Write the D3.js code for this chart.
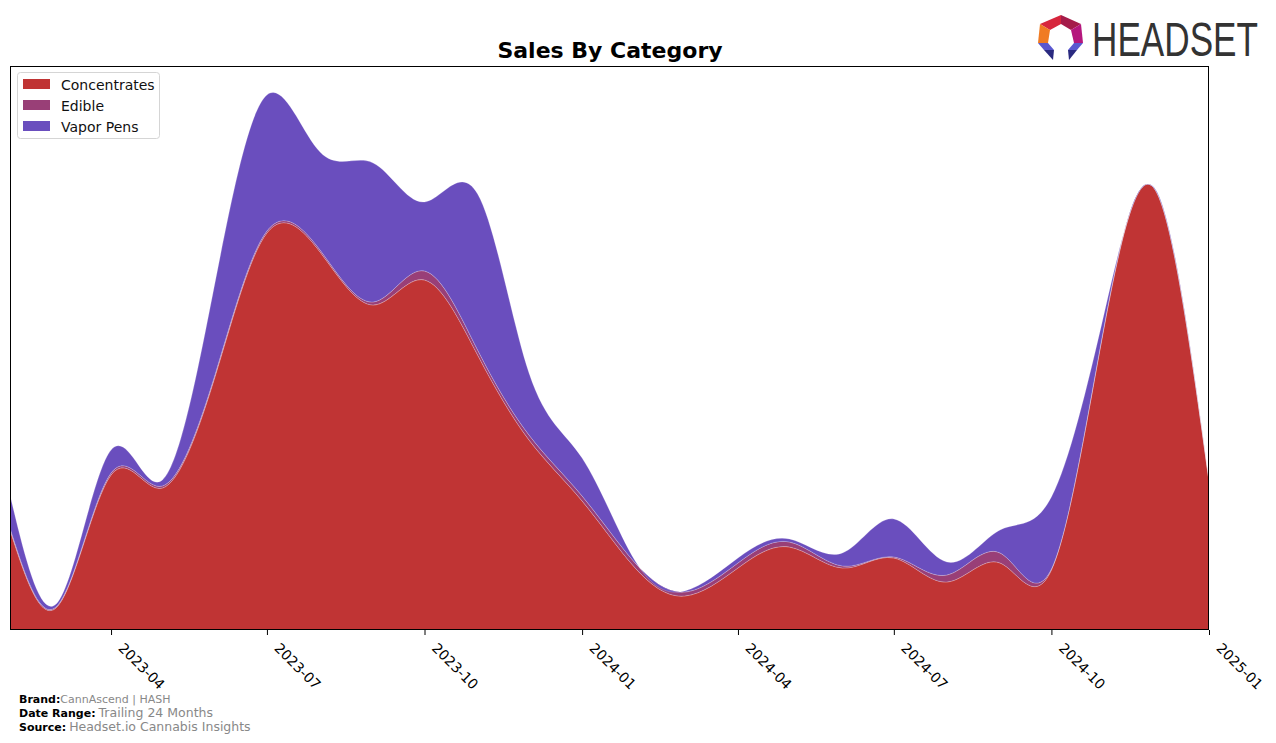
<!DOCTYPE html>
<html>
<head>
<meta charset="utf-8">
<script src="https://cdn.jsdelivr.net/npm/d3@7"></script>
<style>
  body { margin: 0; background: #fff; }
  svg { display: block; font-family: 'DejaVu Sans', sans-serif; }
</style>
</head>
<body>
<div id="chart"></div>
<script>
'use strict';

// monthly sales, trailing 24 months (arbitrary units)
const months = [
  '2023-02', '2023-03', '2023-04', '2023-05', '2023-06', '2023-07',
  '2023-08', '2023-09', '2023-10', '2023-11', '2023-12', '2024-01',
  '2024-02', '2024-03', '2024-04', '2024-05', '2024-06', '2024-07',
  '2024-08', '2024-09', '2024-10', '2024-11', '2024-12', '2025-01',
];
const concentrates = [
  10.0, 2.4, 15.5, 14.2, 25.5, 39.7, 37.8, 32.5, 35.0, 27.5, 19.0, 12.9,
  6.2, 3.4, 6.2, 8.3, 6.2, 7.2, 4.8, 6.7, 6.0, 30.5, 43.9, 14.9,
];
const edible = [
  0.2, 0.1, 0.2, 0.2, 0.2, 0.2, 0.2, 0.3, 0.9, 0.5, 0.5, 0.5,
  0.5, 0.4, 0.5, 0.5, 0.2, 0.1, 0.7, 1.0, 0.1, 0.1, 0.0, 0.05,
];
const vaporPens = [
  3.3, 0.3, 2.3, 0.6, 9.3, 13.6, 9.8, 13.9, 6.9, 15.6, 6.2, 3.8,
  0.2, 0.1, 0.5, 0.3, 1.3, 3.8, 1.3, 2.3, 7.2, 1.2, 0.1, 0.05,
];
const categories = ['Concentrates', 'Edible', 'Vapor Pens'];
const colors = ['#c03434', '#993f77', '#6a4ebe'];
const tickLabels = ['2023-04', '2023-07', '2023-10', '2024-01', '2024-04', '2024-07', '2024-10', '2025-01'];

const width = 1276;
const height = 743;
const margin = { top: 66, right: 67, bottom: 113, left: 10 };
const yMax = 56.4;

const parse = d3.timeParse('%Y-%m');
const rows = months.map((m, i) => ({
  date: parse(m),
  Concentrates: concentrates[i],
  Edible: edible[i],
  'Vapor Pens': vaporPens[i],
}));

const x = d3
  .scaleTime()
  .domain(d3.extent(rows, (d) => d.date))
  .range([margin.left, width - margin.right]);

const y = d3
  .scaleLinear()
  .domain([0, yMax])
  .range([height - margin.bottom, margin.top]);

const series = d3.stack().keys(categories)(rows);

const area = d3
  .area()
  .curve(d3.curveNatural)
  .x((d) => x(d.data.date))
  .y0((d) => y(d[0]))
  .y1((d) => y(d[1]));

const svg = d3
  .select('#chart')
  .append('svg')
  .attr('width', width)
  .attr('height', height);

svg
  .append('clipPath')
  .attr('id', 'plot-clip')
  .append('rect')
  .attr('x', margin.left)
  .attr('y', margin.top)
  .attr('width', width - margin.left - margin.right)
  .attr('height', height - margin.top - margin.bottom);

svg
  .append('g')
  .attr('clip-path', 'url(#plot-clip)')
  .selectAll('path')
  .data(series)
  .enter()
  .append('path')
  .attr('d', area)
  .attr('fill', (d, i) => colors[i])
  .attr('stroke', 'rgba(255,255,255,0.35)')
  .attr('stroke-width', 0.6);

// frame
svg
  .append('rect')
  .attr('x', margin.left + 0.5)
  .attr('y', margin.top + 0.5)
  .attr('width', width - margin.left - margin.right - 1)
  .attr('height', height - margin.top - margin.bottom - 1)
  .attr('fill', 'none')
  .attr('stroke', '#000')
  .attr('stroke-width', 1);

// x axis
const xAxis = d3
  .axisBottom(x)
  .tickValues(tickLabels.map(parse))
  .tickFormat(d3.timeFormat('%Y-%m'))
  .tickSize(5)
  .tickSizeOuter(0);

const gx = svg
  .append('g')
  .attr('transform', 'translate(0,' + (height - margin.bottom) + ')')
  .call(xAxis);
gx.select('.domain').remove();
gx.selectAll('.tick line').attr('stroke', '#000');
gx
  .selectAll('.tick text')
  .attr('fill', '#000')
  .style('font-size', '14px')
  .style('font-family', "'DejaVu Sans', sans-serif")
  .attr('text-anchor', 'start')
  .attr('dy', null)
  .attr('y', 0)
  .attr('transform', 'translate(6,19) rotate(45)');

// title
svg
  .append('text')
  .attr('x', 610)
  .attr('y', 58)
  .attr('text-anchor', 'middle')
  .style('font-size', '22px')
  .style('font-weight', 'bold')
  .text('Sales By Category');

// legend
const legend = svg.append('g').attr('transform', 'translate(17,72)');
legend
  .append('rect')
  .attr('x', 0.5)
  .attr('y', 0.5)
  .attr('width', 142)
  .attr('height', 66)
  .attr('rx', 3)
  .attr('fill', '#fff')
  .attr('fill-opacity', 0.8)
  .attr('stroke', '#d5d5d5');
categories.forEach((c, i) => {
  legend
    .append('rect')
    .attr('x', 6)
    .attr('y', 7 + i * 21)
    .attr('width', 27)
    .attr('height', 10)
    .attr('fill', colors[i]);
  legend
    .append('text')
    .attr('x', 44)
    .attr('y', 18 + i * 21)
    .style('font-size', '14px')
    .attr('fill', '#111')
    .text(c);
});

// footer
const footer = [
  ['Brand:', 'CannAscend | HASH', 11],
  ['Date Range:', 'Trailing 24 Months', 12.5],
  ['Source:', 'Headset.io Cannabis Insights', 12.5],
];
footer.forEach((f, i) => {
  const t = svg
    .append('text')
    .attr('x', 19)
    .attr('y', 703 + i * 14);
  t.append('tspan').style('font-size', '11px').style('font-weight', 'bold').attr('fill', '#000').text(f[0]);
  t.append('tspan').style('font-size', f[2] + 'px').attr('fill', '#888').attr('dx', i === 0 ? 0 : 3).text(f[1]);
});

// logo
const logo = svg.append('g').attr('transform', 'translate(1038,15)');
const shards = [
  ['#d7263d', '2,9 23,0 23,9 12,15'],
  ['#a51c4a', '23,0 43,9 33,15 23,9'],
  ['#b5177d', '43,9 45,28 36,28 33,15'],
  ['#f07b23', '2,9 12,15 10,28 0,28'],
  ['#5a58d0', '0,28 10,28 16,35 6,35'],
  ['#2a2a80', '6,35 16,35 15,45'],
  ['#5a58d0', '45,28 36,28 30,35 39,35'],
  ['#2a2a80', '39,35 30,35 31,45'],
];
shards.forEach((s) => {
  logo.append('polygon').attr('points', s[1]).attr('fill', s[0]);
});
svg
  .append('text')
  .attr('x', 1092)
  .attr('y', 56)
  .attr('textLength', 166)
  .attr('lengthAdjust', 'spacingAndGlyphs')
  .style('font-size', '49px')
  .style('font-family', "'Liberation Sans', 'DejaVu Sans', sans-serif")
  .attr('fill', '#333')
  .text('HEADSET');
</script>
</body>
</html>
